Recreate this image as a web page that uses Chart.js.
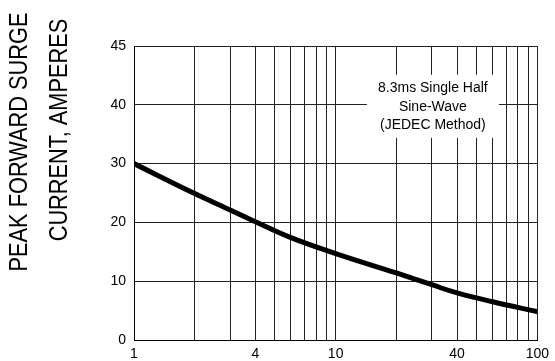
<!DOCTYPE html>
<html>
<head>
<meta charset="utf-8">
<script src="https://cdn.jsdelivr.net/npm/chart.js"></script>
<style>
  html, body { margin:0; padding:0; background:#fff; }
</style>
</head>
<body>
<canvas id="surgeChart" width="555" height="361"></canvas>
<script>
// number of cycles at 60Hz (x) and peak surge current (y)
var cycles = [1, 2, 3, 4, 6, 10, 20, 30, 40, 60, 100];
var surgeAmps = [30, 24.9, 22.1, 20.1, 17.4, 14.7, 11.4, 9.4, 8.0, 6.5, 4.8];

// axis ticks
var xGridValues = [1, 2, 3, 4, 5, 6, 7, 8, 9, 10, 20, 30, 40, 50, 60, 70, 80, 90, 100];
var xTickLabels = ['1', '4', '10', '40', '100'];
var yTickValues = [0, 10, 20, 30, 40, 50];
var yTickLabels = ['0', '10', '20', '30', '40', '45'];

var yTitleLines = ['PEAK FORWARD SURGE', 'CURRENT, AMPERES'];
var noteLines = ['8.3ms Single Half', 'Sine-Wave', '(JEDEC Method)'];

Chart.defaults.font.family = "'Liberation Sans', Arial, sans-serif";
Chart.defaults.font.size = 14;
Chart.defaults.color = '#000';

var points = [];
for (var i = 0; i < cycles.length; i++) {
    points.push({x: cycles[i], y: surgeAmps[i]});
}

//注記の白い箱
var noteBox = {
    id: 'noteBox',
    afterDatasetsDraw: function(chart) {
        var ctx = chart.ctx;
        var cx = chart.scales.x.getPixelForValue(30) + 1;
        var cy = chart.scales.y.getPixelForValue(40) + 2;
        ctx.save();
        ctx.fillStyle = '#fff';
        ctx.fillRect(cx - 66, cy - 32, 132, 63);
        ctx.fillStyle = '#000';
        ctx.font = "14px 'Liberation Sans', Arial, sans-serif";
        ctx.textAlign = 'center';
        ctx.textBaseline = 'middle';
        for (var k = 0; k < noteLines.length; k++) {
            ctx.fillText(noteLines[k], cx, cy - 18.5 + k * 18.5);
        }
        ctx.restore();
    }
};

//縦軸タイトル（2行、横に少し詰める）
var yTitle = {
    id: 'yTitle',
    afterDraw: function(chart) {
        var ctx = chart.ctx;
        var xs = [19, 59];
        var ys = [142, 130];
        ctx.save();
        ctx.fillStyle = '#000';
        ctx.font = "26px 'Liberation Sans', Arial, sans-serif";
        ctx.textAlign = 'center';
        ctx.textBaseline = 'middle';
        var squeeze = 259 / ctx.measureText(yTitleLines[0]).width;
        for (var k = 0; k < yTitleLines.length; k++) {
            ctx.save();
            ctx.translate(xs[k], ys[k]);
            ctx.rotate(-Math.PI / 2);
            ctx.scale(squeeze, 1);
            ctx.fillText(yTitleLines[k], 0, 1);
            ctx.restore();
        }
        ctx.restore();
    }
};

var ctx = document.getElementById('surgeChart');
var surgeChart = new Chart(ctx, {
    type: 'line',
    data: {
        datasets: [{
            data: points,
            borderColor: '#000',
            borderWidth: 5,
            pointRadius: 0,
            fill: false,
            tension: 0.4
        }]
    },
    options: {
        responsive: false,
        animation: false,
        layout: { padding: { top: 46, right: 15, left: 0, bottom: 0 } },
        plugins: { legend: { display: false }, tooltip: { enabled: false } },
        scales: {
            x: {
                type: 'logarithmic',
                min: 1,
                max: 100,
                afterBuildTicks: function(scale) {
                    scale.ticks = xGridValues.map(function(v) { return {value: v}; });
                },
                afterFit: function(scale) { scale.height = 21; },
                grid: { color: '#222', lineWidth: 1, drawTicks: false },
                border: { color: '#000', width: 1 },
                ticks: {
                    autoSkip: false,
                    maxRotation: 0,
                    padding: 6,
                    callback: function(v) {
                        return xTickLabels.indexOf(String(v)) >= 0 ? String(v) : '';
                    }
                }
            },
            y: {
                min: 0,
                max: 50,
                afterBuildTicks: function(scale) {
                    scale.ticks = yTickValues.map(function(v) { return {value: v}; });
                },
                afterFit: function(scale) { scale.width = 134; },
                grid: { color: '#222', lineWidth: 1, drawTicks: false },
                border: { color: '#000', width: 1 },
                ticks: {
                    padding: 8,
                    callback: function(v, idx) { return yTickLabels[idx]; }
                }
            }
        }
    },
    plugins: [noteBox, yTitle]
});
</script>
</body>
</html>
